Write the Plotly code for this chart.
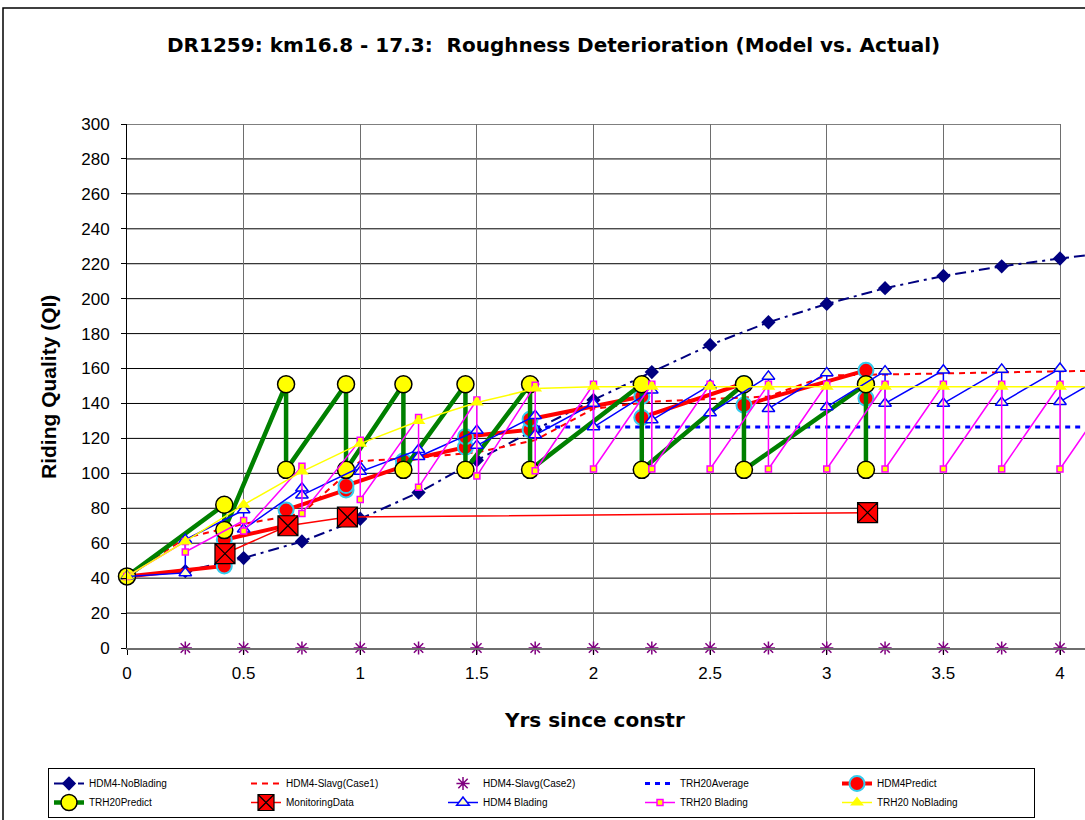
import plotly.graph_objects as go

# ---------------- data ----------------
quarters = [0, 0.25, 0.5, 0.75, 1.0, 1.25, 1.5, 1.75, 2.0, 2.25, 2.5, 2.75,
            3.0, 3.25, 3.5, 3.75, 4.0, 4.25]
hdm4_noblading = [41, 44, 51.5, 61, 74, 89, 107.5, 125, 142, 158, 173.5, 186.5,
                  197, 206, 213, 218.5, 223, 227]
hdm4_slavg1 = [41, 63, 71, 77, 107, 109, 112, 119, 137, 141, 142.5, 144,
               156, 156.5, 157, 157.5, 158, 159]

slavg2_x = [0.25, 0.5, 0.75, 1.0, 1.25, 1.5, 1.75, 2.0, 2.25, 2.5, 2.75, 3.0,
            3.25, 3.5, 3.75, 4.0]
slavg2_y = [0] * 16

trh20_avg_x = [1.75, 4.25]
trh20_avg_y = [126.5, 126.5]

blade_x = [0, 0.417, 0.417, 0.682, 0.682, 0.939, 0.939, 1.185, 1.185, 1.451,
           1.451, 1.728, 1.728, 2.207, 2.207, 2.645, 2.645, 3.168, 3.168]
hdm4_predict = [41, 47, 62, 70, 79, 90.5, 93, 104, 107, 115, 121, 125, 131,
                144, 132, 151.5, 139, 159, 143]
trh20_predict = [41, 82, 67.5, 151, 102, 151, 102, 151, 102, 151, 102, 151,
                 102, 151, 102, 151, 102, 151, 102]

monitor_x = [0.42, 0.69, 0.945, 3.175]
monitor_y = [54, 70, 75, 77.5]

saw_x = [0, 0.25, 0.25, 0.5, 0.5, 0.75, 0.75, 1.0, 1.0, 1.25, 1.25, 1.5, 1.5,
         1.75, 1.75, 2.0, 2.0, 2.25, 2.25, 2.5, 2.5, 2.75, 2.75, 3.0, 3.0,
         3.25, 3.25, 3.5, 3.5, 3.75, 3.75, 4.0, 4.0, 4.25]
hdm4_blading = [41, 43, 62, 79, 68, 91.5, 87.5, 103.5, 101, 113.5, 109.5,
                124.5, 116, 133, 122, 140, 126.5, 147.5, 130.5, 150.5, 134.5,
                155.5, 137, 157.5, 138, 158.5, 140, 159, 140, 159.5, 140.5,
                160, 141, 160.5]
trh20_blading = [41, 61, 55, 73, 67, 104, 77, 119, 85, 132, 92, 142, 98.5,
                 150.5, 101.5, 151, 102.5, 151, 102.5, 151, 102.5, 151, 102.5,
                 151, 102.5, 151, 102.5, 151, 102.5, 151, 102.5, 151, 102.5,
                 151]
trh20_noblading = [41, 61, 82, 101, 117, 130, 140.5, 148.5, 149.5, 149.5, 149.5,
                   149.5, 149.5, 149.5, 149.5, 149.5, 149.5, 149.5]

x_ticks = [0, 0.5, 1, 1.5, 2, 2.5, 3, 3.5, 4]
x_ticktext = ["0", "0.5", "1", "1.5", "2", "2.5", "3", "3.5", "4"]
y_ticks = list(range(0, 301, 20))

title = "DR1259: km16.8 - 17.3:  Roughness Deterioration (Model vs. Actual)"

# ---------------- figure ----------------
FONT = "Liberation Sans, Arial, sans-serif"
WIDE = "DejaVu Sans, Liberation Sans, sans-serif"
fig = go.Figure()

fig.add_trace(go.Scatter(
    x=quarters, y=hdm4_noblading, name="HDM4-NoBlading", mode="lines+markers",
    line=dict(color="#000080", width=2, dash="11px,5px,3px,5px"),
    marker=dict(symbol="diamond", size=11, color="#000080"), cliponaxis=False))
fig.add_trace(go.Scatter(
    x=quarters, y=hdm4_slavg1, name="HDM4-Slavg(Case1)", mode="lines",
    line=dict(color="#FF0000", width=2, dash="6px,5px")))
fig.add_trace(go.Scatter(
    x=slavg2_x, y=slavg2_y, name="HDM4-Slavg(Case2)", mode="markers",
    marker=dict(symbol="asterisk-open", size=11, color="#800080",
                line=dict(color="#800080", width=1.5)), cliponaxis=False))
fig.add_trace(go.Scatter(
    x=trh20_avg_x, y=trh20_avg_y, name="TRH20Average", mode="lines",
    line=dict(color="#0000FF", width=3, dash="5px,5px")))
fig.add_trace(go.Scatter(
    x=blade_x, y=hdm4_predict, name="HDM4Predict", mode="lines+markers",
    line=dict(color="#FF0000", width=4),
    marker=dict(symbol="circle", size=15, color="#FF0000",
                line=dict(color="#33CCEE", width=2)), cliponaxis=False))
fig.add_trace(go.Scatter(
    x=blade_x, y=trh20_predict, name="TRH20Predict", mode="lines+markers",
    line=dict(color="#008000", width=4.5),
    marker=dict(symbol="circle", size=17, color="#FFFF00",
                line=dict(color="#000000", width=1.5)), cliponaxis=False))
fig.add_trace(go.Scatter(
    x=monitor_x, y=monitor_y, name="MonitoringData", mode="lines+markers",
    line=dict(color="#FF0000", width=1.5),
    marker=dict(symbol="square-x", size=20, color="#FF0000",
                line=dict(color="#000000", width=1.2)), cliponaxis=False))
fig.add_trace(go.Scatter(
    x=saw_x, y=hdm4_blading, name="HDM4 Blading", mode="lines+markers",
    line=dict(color="#0000FF", width=1.5),
    marker=dict(symbol="triangle-up", size=11, color="#FFFFCC",
                line=dict(color="#0000FF", width=1.5)), cliponaxis=False))
fig.add_trace(go.Scatter(
    x=saw_x, y=trh20_blading, name="TRH20 Blading", mode="lines+markers",
    line=dict(color="#FF00FF", width=1.5),
    marker=dict(symbol="square", size=6, color="#FFFF00",
                line=dict(color="#FF00FF", width=1.5)), cliponaxis=False))
fig.add_trace(go.Scatter(
    x=quarters, y=trh20_noblading, name="TRH20 NoBlading", mode="lines+markers",
    line=dict(color="#FFFF00", width=1.5),
    marker=dict(symbol="triangle-up", size=12, color="#FFFF00"), cliponaxis=False))

# horizontal gridlines only across 0..4
shapes = []
for v in y_ticks[1:]:
    shapes.append(dict(type="line", xref="x", yref="y", x0=0, x1=4, y0=v, y1=v,
                       line=dict(color="#000000", width=1), layer="below"))
# outer chart border
shapes.append(dict(type="rect", xref="paper", yref="paper",
                   x0=(3 - 127) / 958, x1=1.2, y0=-0.5, y1=(648 - 8) / 524,
                   line=dict(color="#000000", width=1.5), layer="below"))

annotations = [
    dict(text="<b>" + title + "</b>", xref="paper", yref="paper",
         x=(553 - 127) / 958, y=(648 - 45) / 524, showarrow=False,
         font=dict(family=WIDE, size=20, color="black"), xanchor="center", yanchor="middle"),
    dict(text="<b>Yrs since constr</b>", xref="paper", yref="paper",
         x=(594 - 127) / 958, y=(648 - 720) / 524, showarrow=False,
         font=dict(family=WIDE, size=20, color="black"), xanchor="center", yanchor="middle"),
    dict(text="<b>Riding Quality (QI)</b>", xref="paper", yref="paper",
         x=(48 - 127) / 958, y=(648 - 387) / 524, showarrow=False, textangle=-90,
         font=dict(family=FONT, size=21, color="black"), xanchor="center", yanchor="middle"),
]

fig.update_layout(
    width=1085, height=820,
    margin=dict(l=127, r=0, t=124, b=172, pad=0, autoexpand=False),
    paper_bgcolor="white", plot_bgcolor="white",
    font=dict(family=FONT, color="black"),
    showlegend=True, hovermode=False,
    shapes=shapes, annotations=annotations,
    xaxis=dict(range=[0, (1085 - 127) / 233.25], tickvals=x_ticks, ticktext=x_ticktext,
               showgrid=True, gridcolor="#6E6E6E", gridwidth=1, zeroline=False,
               showline=True, linecolor="#6E6E6E", linewidth=2,
               ticks="outside", ticklen=5, tickcolor="#000000",
               tickfont=dict(family=FONT, size=17), ticklabelstandoff=4),
    yaxis=dict(range=[0, 300], tickvals=y_ticks, showgrid=False, zeroline=False,
               showline=True, linecolor="#000000", linewidth=1,
               ticks="outside", ticklen=5, tickcolor="#000000",
               tickfont=dict(family=FONT, size=17), ticklabelstandoff=8),
    legend=dict(orientation="h", x=(48 - 127) / 958, y=(648 - 768) / 524,
                xanchor="left", yanchor="top", entrywidth=152, entrywidthmode="pixels",
                font=dict(family=FONT, size=10), bordercolor="#000000", borderwidth=1,
                bgcolor="white", itemwidth=30, tracegroupgap=0),
)

fig.write_html("out.html", config={"displayModeBar": False},
               post_script="document.body.style.margin='0';document.body.style.overflow='hidden';")
